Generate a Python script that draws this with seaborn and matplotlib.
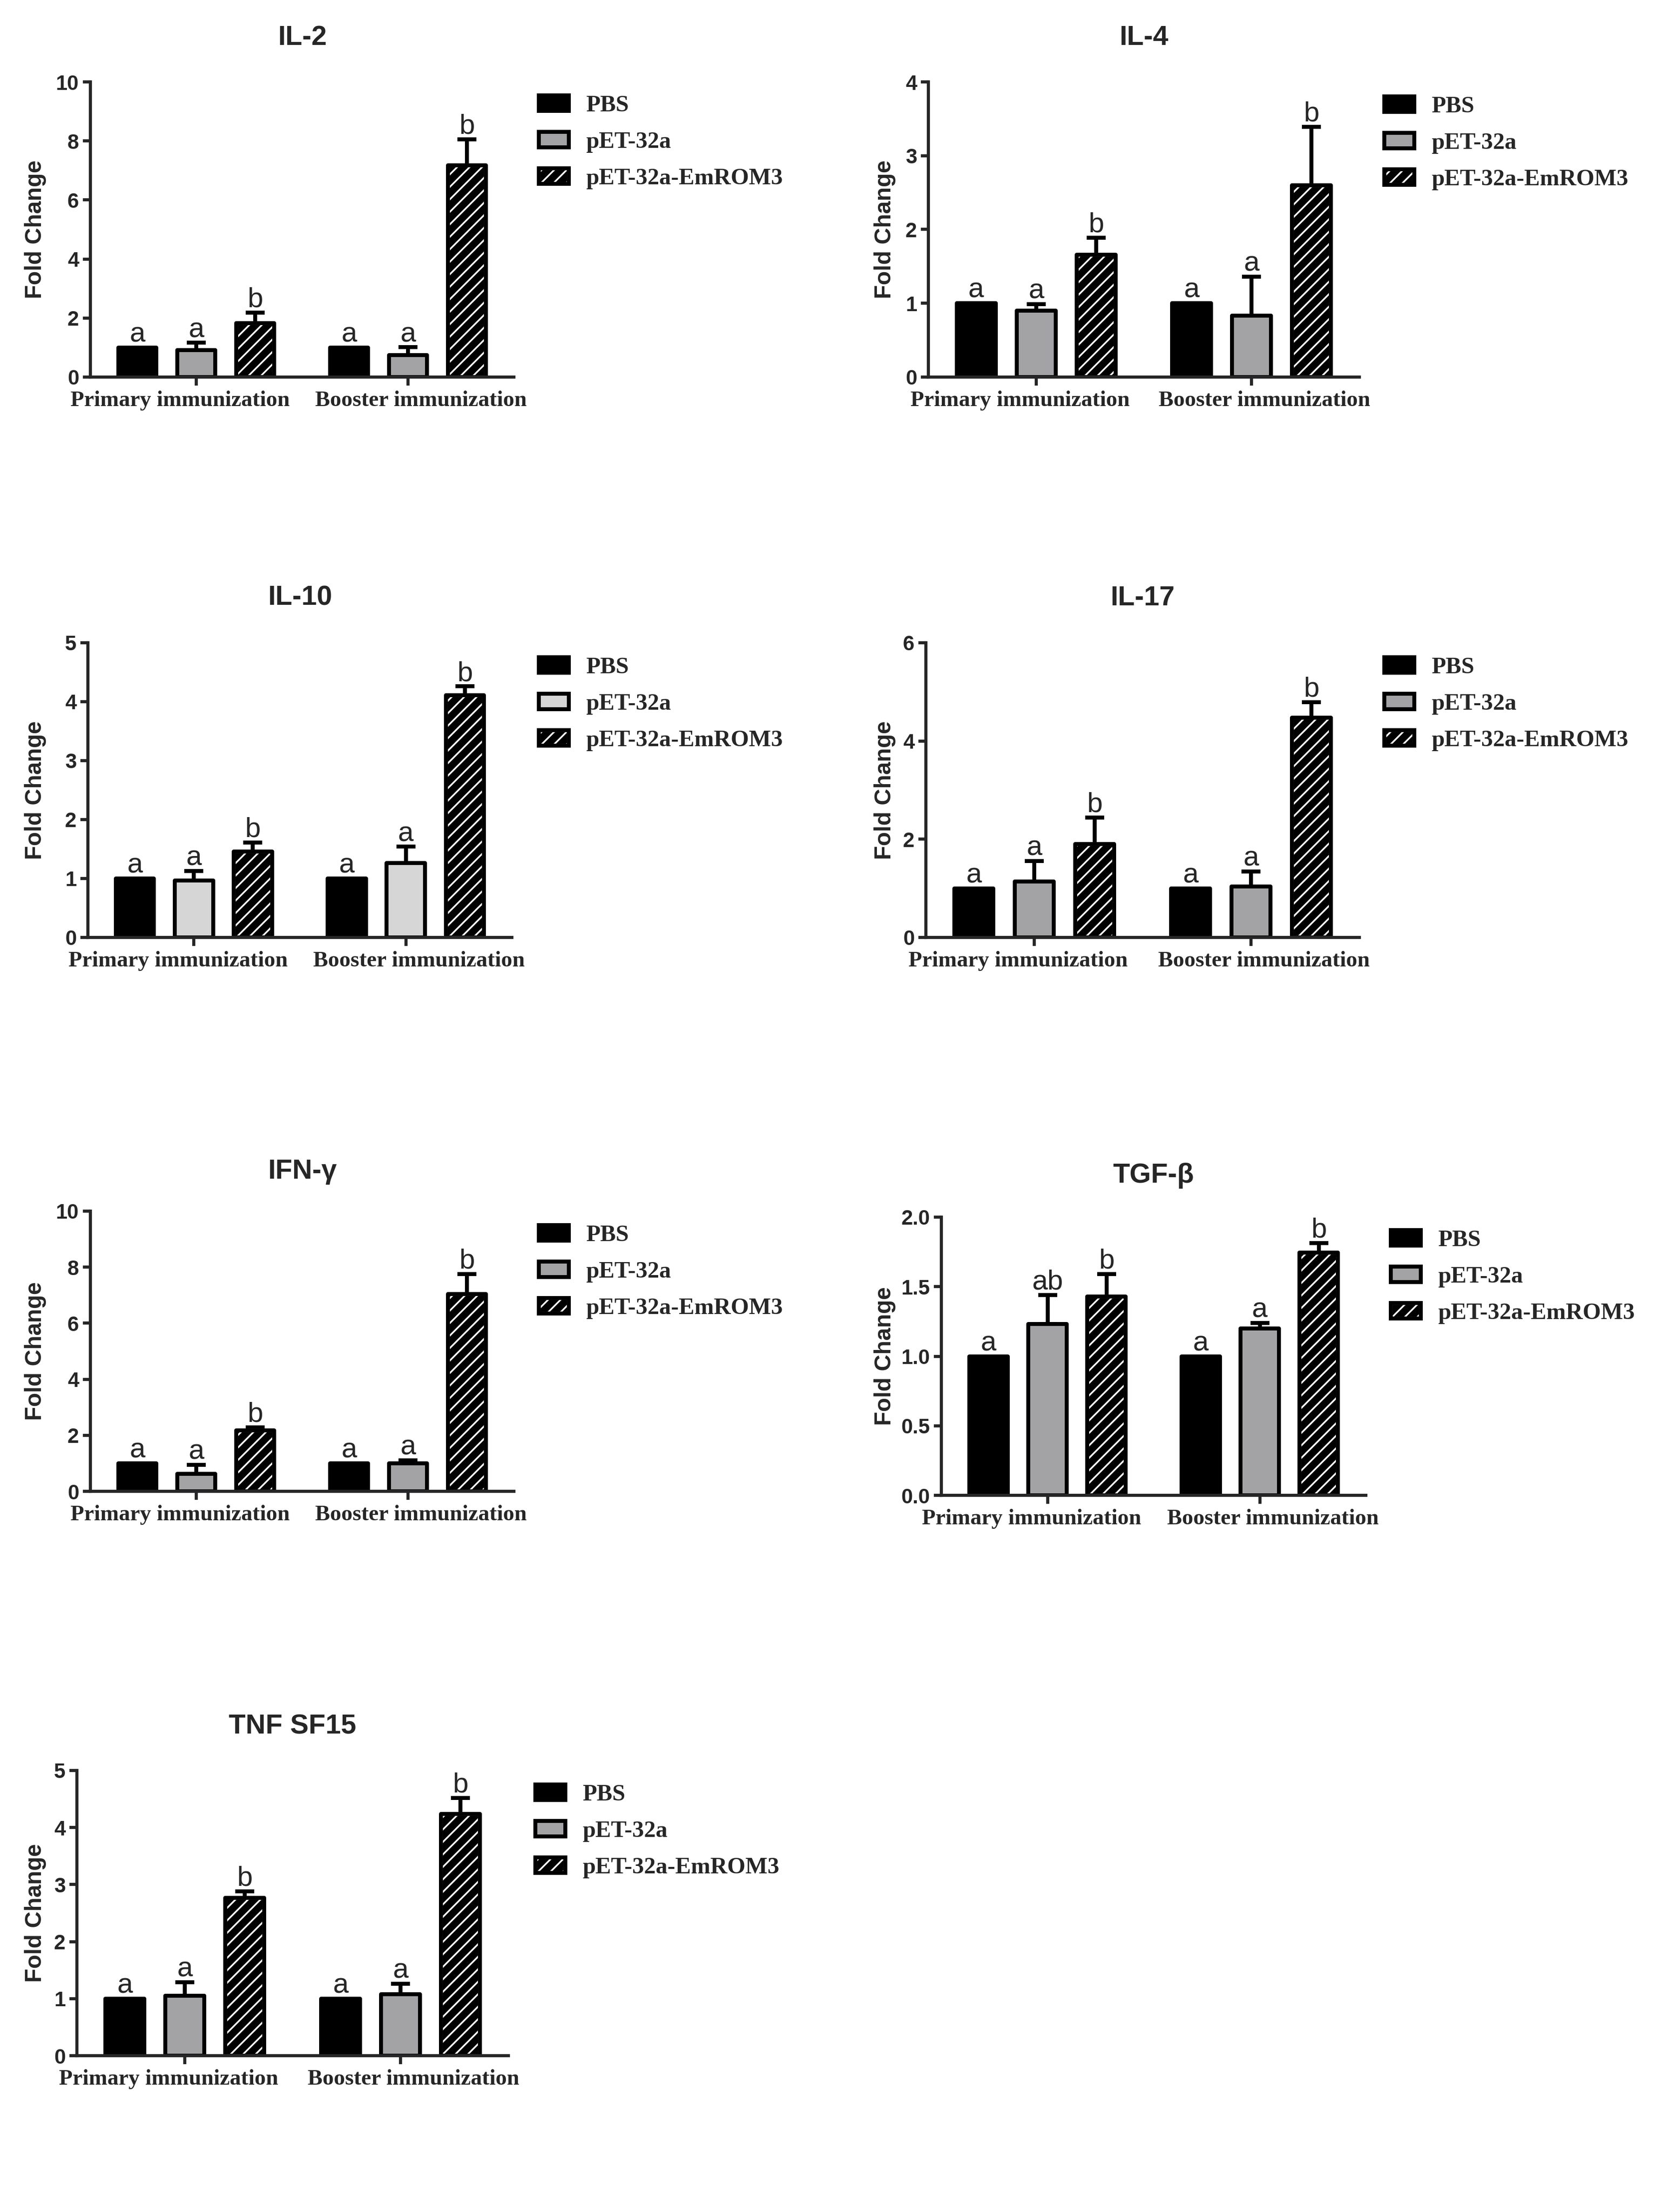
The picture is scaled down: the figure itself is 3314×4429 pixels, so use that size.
import pandas as pd
import matplotlib
matplotlib.use("Agg")
import matplotlib.pyplot as plt
import matplotlib.patches as mpatches
from matplotlib.ticker import FormatStrFormatter
import seaborn as sns

# categories
PHASES = ["Primary immunization", "Booster immunization"]
GROUPS = ["PBS", "pET-32a", "pET-32a-EmROM3"]

# order of values: primary PBS, pET-32a, EmROM3, then booster PBS, pET-32a, EmROM3
il2_mean = [1.0, 0.92, 1.83, 1.0, 0.74, 7.18]
il2_sd = [0.0, 0.24, 0.36, 0.0, 0.27, 0.88]
il4_mean = [1.0, 0.90, 1.66, 1.0, 0.83, 2.60]
il4_sd = [0.0, 0.09, 0.23, 0.0, 0.53, 0.79]
il10_mean = [1.0, 0.97, 1.46, 1.0, 1.26, 4.11]
il10_sd = [0.0, 0.16, 0.15, 0.0, 0.28, 0.15]
il17_mean = [1.0, 1.14, 1.90, 1.0, 1.04, 4.47]
il17_sd = [0.0, 0.42, 0.54, 0.0, 0.30, 0.32]
ifn_mean = [1.0, 0.62, 2.18, 1.0, 1.00, 7.04]
ifn_sd = [0.0, 0.33, 0.10, 0.0, 0.11, 0.71]
tgf_mean = [1.0, 1.23, 1.43, 1.0, 1.20, 1.745]
tgf_sd = [0.0, 0.21, 0.16, 0.0, 0.04, 0.07]
tnf_mean = [1.0, 1.05, 2.77, 1.0, 1.08, 4.24]
tnf_sd = [0.0, 0.24, 0.11, 0.0, 0.18, 0.28]

letters_abb = ["a", "a", "b", "a", "a", "b"]
tgf_letters = ["a", "ab", "b", "a", "a", "b"]

il2_ticks = [0, 2, 4, 6, 8, 10]
il4_ticks = [0, 1, 2, 3, 4]
il10_ticks = [0, 1, 2, 3, 4, 5]
il17_ticks = [0, 2, 4, 6]
ifn_ticks = [0, 2, 4, 6, 8, 10]
tgf_ticks = [0.0, 0.5, 1.0, 1.5, 2.0]
tnf_ticks = [0, 1, 2, 3, 4, 5]

GRAY = "#a3a3a6"
LIGHT_GRAY = "#d6d6d6"

W, H, DPI = 3314, 4429, 150
BAR_LW = 3.8
# the phase labels sit a little apart from their ticks (points)
PHASE_SHIFT = [-15.4, 12.5]

sns.set_style("ticks")
plt.rcParams["font.family"] = ["Liberation Sans", "DejaVu Sans"]
plt.rcParams["font.weight"] = "bold"
plt.rcParams["hatch.linewidth"] = 1.6

fig = plt.figure(figsize=(W / DPI, H / DPI), dpi=DPI)
fig.patch.set_facecolor("white")


def draw_panel(title, means, sds, letters, yticks, fmt, pet_color, box, ylab_x):
    # box: left, right, top, bottom, title y, legend left, legend first-row centre (pixels)
    left, right, top, bottom, title_y, leg_x, leg_cy = box
    ax = fig.add_axes([left / W, 1 - bottom / H, (right - left) / W, (bottom - top) / H])

    df = pd.DataFrame({
        "phase": [p for p in PHASES for g in GROUPS],
        "group": [g for p in PHASES for g in GROUPS],
        "value": means,
    })
    palette = {GROUPS[0]: "black", GROUPS[1]: pet_color, GROUPS[2]: "black"}
    sns.barplot(data=df, x="phase", y="value", hue="group", order=PHASES,
                hue_order=GROUPS, palette=palette, width=0.835, gap=0.35,
                errorbar=None, edgecolor="black", linewidth=BAR_LW,
                joinstyle="round", legend=False, ax=ax)
    bar_conts = list(ax.containers)

    # white hatch on black bars, black outline drawn on top
    for p in bar_conts[2]:
        p.set_hatch("//")
        p.set_edgecolor("white")
        ax.add_patch(mpatches.Rectangle(p.get_xy(), p.get_width(), p.get_height(),
                                        fill=False, edgecolor="black", linewidth=BAR_LW,
                                        joinstyle="round", zorder=p.get_zorder() + 0.05))

    for gi, cont in enumerate(bar_conts):
        bars = sorted(cont.patches, key=lambda r: r.get_x())
        for pi, bar in enumerate(bars):
            k = pi * 3 + gi
            xc = bar.get_x() + bar.get_width() / 2
            h = bar.get_height()
            if sds[k] > 0:
                ax.errorbar(xc, h, yerr=[[0], [sds[k]]], fmt="none", ecolor="black",
                            elinewidth=3.8, capsize=8.9, capthick=3.8, zorder=0.9)
            ax.annotate(letters[k], xy=(xc, h + sds[k]), xytext=(0, 5.4),
                        textcoords="offset points", ha="center", va="baseline",
                        fontsize=27, fontweight="normal", family="Liberation Sans")

    ax.set_xlim(-0.5, 1.5)
    ax.set_ylim(0, yticks[-1])
    ax.set_yticks(yticks)
    ax.yaxis.set_major_formatter(FormatStrFormatter(fmt))
    ax.set_xlabel("")
    ax.set_ylabel("Fold Change", fontsize=22, fontweight="bold")
    ax.yaxis.set_label_coords((ylab_x - left) / (right - left), 0.5)
    sns.despine(ax=ax)
    for s in ["left", "bottom"]:
        ax.spines[s].set_linewidth(3)
    ax.tick_params(axis="y", length=7, width=3, pad=4, labelsize=20)
    ax.tick_params(axis="x", length=8, width=3, labelbottom=False)

    for i, phase in enumerate(PHASES):
        ax.annotate(phase, xy=(i, 0), xycoords=("data", "axes fraction"),
                    xytext=(PHASE_SHIFT[i], -13), textcoords="offset points",
                    ha="center", va="top", fontsize=21.5, fontweight="bold",
                    family="Liberation Serif")

    ax.text(0.5, 1 + (top - title_y) / (bottom - top), title, transform=ax.transAxes,
            ha="center", va="center", fontsize=26.5, fontweight="bold")

    handles = [
        mpatches.Patch(facecolor="black", edgecolor="black", linewidth=BAR_LW, joinstyle="round"),
        mpatches.Patch(facecolor=pet_color, edgecolor="black", linewidth=BAR_LW, joinstyle="round"),
        (mpatches.Patch(facecolor="black", edgecolor="white", hatch="//", linewidth=BAR_LW),
         mpatches.Patch(fill=False, edgecolor="black", linewidth=BAR_LW, joinstyle="round")),
    ]
    ax.legend(handles, GROUPS, loc="upper left",
              bbox_to_anchor=((leg_x + 4) / W, 1 - (leg_cy - 15) / H),
              bbox_transform=fig.transFigure, frameon=False,
              prop={"family": "Liberation Serif", "weight": "bold", "size": 22.5},
              handlelength=1.27, handleheight=0.64, handletextpad=0.74,
              labelspacing=0.66, borderpad=0, borderaxespad=0)
    return ax


LEFT_YLAB = 93
RIGHT_YLAB = 1794

draw_panel("IL-2", il2_mean, il2_sd, letters_abb, il2_ticks, "%d", GRAY,
           (181, 1029, 164, 755, 76, 1075, 206), LEFT_YLAB)
draw_panel("IL-4", il4_mean, il4_sd, letters_abb, il4_ticks, "%d", GRAY,
           (1859, 2722, 164, 755, 76, 2768, 208), RIGHT_YLAB)
draw_panel("IL-10", il10_mean, il10_sd, letters_abb, il10_ticks, "%d", LIGHT_GRAY,
           (176, 1025, 1287, 1877, 1198, 1075, 1331), LEFT_YLAB)
draw_panel("IL-17", il17_mean, il17_sd, letters_abb, il17_ticks, "%d", GRAY,
           (1854, 2722, 1287, 1877, 1198, 2768, 1331), RIGHT_YLAB)
draw_panel("IFN-γ", ifn_mean, ifn_sd, letters_abb, ifn_ticks, "%d", GRAY,
           (181, 1029, 2425, 2986, 2346, 1075, 2468), LEFT_YLAB)
draw_panel("TGF-β", tgf_mean, tgf_sd, tgf_letters, tgf_ticks, "%.1f", GRAY,
           (1885, 2735, 2437, 2994, 2354, 2781, 2478), RIGHT_YLAB)
draw_panel("TNF SF15", tnf_mean, tnf_sd, letters_abb, tnf_ticks, "%d", GRAY,
           (154, 1018, 3545, 4116, 3457, 1068, 3588), LEFT_YLAB)

fig.savefig("out.png", dpi=DPI, facecolor="white")
